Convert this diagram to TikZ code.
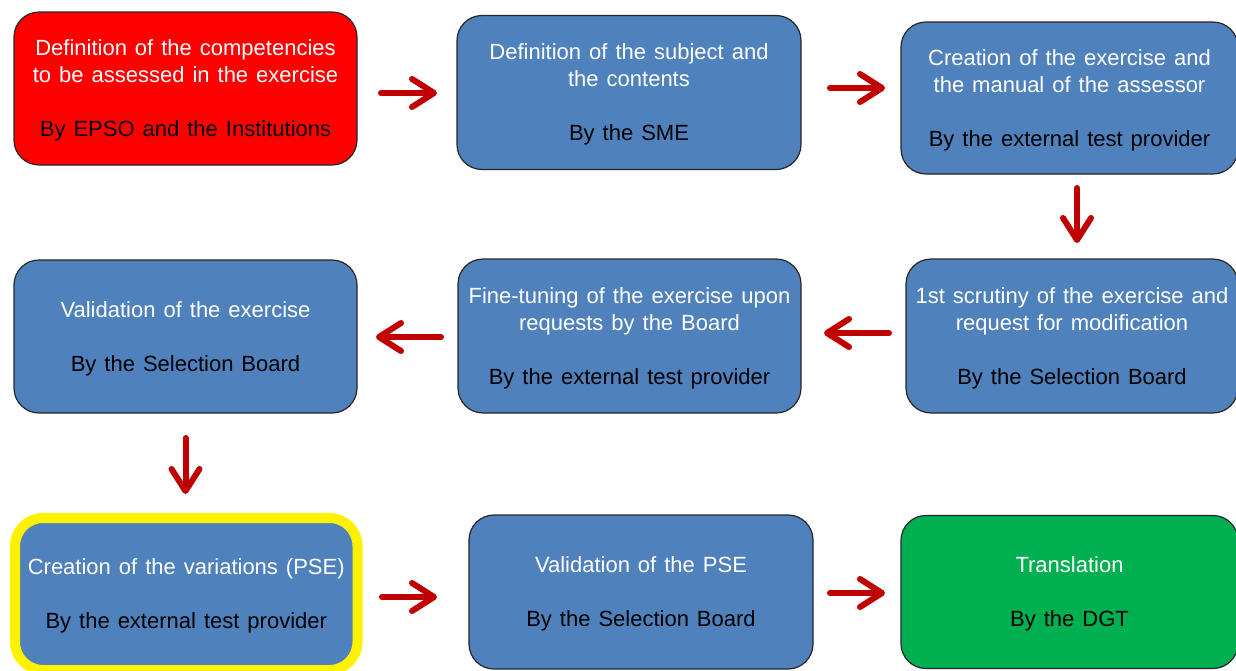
\documentclass[tikz,border=0pt]{standalone}
\usepackage{fontspec}
\setmainfont{Liberation Sans}
\usetikzlibrary{arrows.meta,calc}
\definecolor{boxblue}{HTML}{4F81BD}
\definecolor{boxred}{HTML}{FF0000}
\definecolor{boxgreen}{HTML}{00B050}
\definecolor{arrred}{HTML}{C00000}
\definecolor{edgecol}{HTML}{262626}
\newcommand\boxfont{\fontsize{22}{27}\selectfont\spaceskip=8pt plus 1pt\relax}
\newcommand\ttl[1]{\textcolor{white}{#1}}
\tikzset{
  procbox/.style={draw=edgecol, line width=1.2pt, fill=boxblue, rounded corners=25pt,
    minimum width=343pt, minimum height=153pt, inner sep=0pt, outer sep=0pt,
    align=center, font=\boxfont, text=black, text depth=0pt},
  arr/.style={draw=arrred, line width=6pt, line cap=round,
    -{Straight Barb[length=22pt,width=28pt,round]}}
}
\begin{document}
\begin{tikzpicture}[x=1pt,y=-1pt]
\useasboundingbox[fill=white] (0,0) rectangle (1236,670);
% row 1
\node[procbox, fill=boxred, minimum width=343pt] (b1) at (185.5,88.5)
  {\ttl{Definition of the competencies}\\\ttl{to be assessed in the exercise}\\[27pt]By EPSO and the Institutions};
\node[procbox, minimum width=344pt, minimum height=154pt] (b2) at (629,92.5)
  {\ttl{Definition of the subject and}\\\ttl{the contents}\\[27pt]By the SME};
\node[procbox, minimum width=337pt, minimum height=152pt] (b3) at (1069.5,98)
  {\ttl{Creation of the exercise and}\\\ttl{the manual of the assessor}\\[27pt]By the external test provider};
% row 2
\node[procbox, minimum width=332pt, minimum height=154pt] (b4) at (1072,336)
  {\ttl{1st scrutiny of the exercise and}\\\ttl{request for modification}\\[27pt]By the Selection Board};
\node[procbox, minimum width=343pt, minimum height=154pt] (b5) at (629.5,336)
  {\ttl{Fine-tuning of the exercise upon}\\\ttl{requests by the Board}\\[27pt]By the external test provider};
\node[procbox] (b6) at (185.5,336.5)
  {\ttl{Validation of the exercise}\\[27pt]By the Selection Board};
% row 3
\node[procbox, draw=yellow, line width=10pt, rounded corners=28pt, minimum width=342.5pt, minimum height=152pt] (b7) at (186.25,594)
  {\ttl{Creation of the variations (PSE)}\\[27pt]By the external test provider};
\node[procbox, minimum width=344pt, minimum height=154pt] (b8) at (641,592)
  {\ttl{Validation of the PSE}\\[27pt]By the Selection Board};
\node[procbox, fill=boxgreen, minimum width=337pt, minimum height=153pt] (b9) at (1069.5,592)
  {\ttl{Translation}\\[27pt]By the DGT};
% arrows
\draw[arr] ($(b1.east)+(24,4.5)$) -- ($(b2.west)+(-20,0.5)$);
\draw[arr] ($(b2.east)+(29,-4.5)$) -- ($(b3.west)+(-16,-10)$);
\draw[arr] ($(b3.south)+(7.5,14)$) -- ($(b4.north)+(5,-16)$);
\draw[arr] ($(b4.west)+(-17,-3)$) -- ($(b5.east)+(23,-3)$);
\draw[arr] ($(b5.west)+(-17,1)$) -- ($(b6.east)+(19,0.5)$);
\draw[arr] ($(b6.south)+(0,25)$) -- ($(b7.north)+(-0.75,-24)$);
\draw[arr] ($(b7.east)+(24.5,3)$) -- ($(b8.west)+(-32,5)$);
\draw[arr] ($(b8.east)+(17,1)$) -- ($(b9.west)+(-16,1)$);
\end{tikzpicture}
\end{document}
